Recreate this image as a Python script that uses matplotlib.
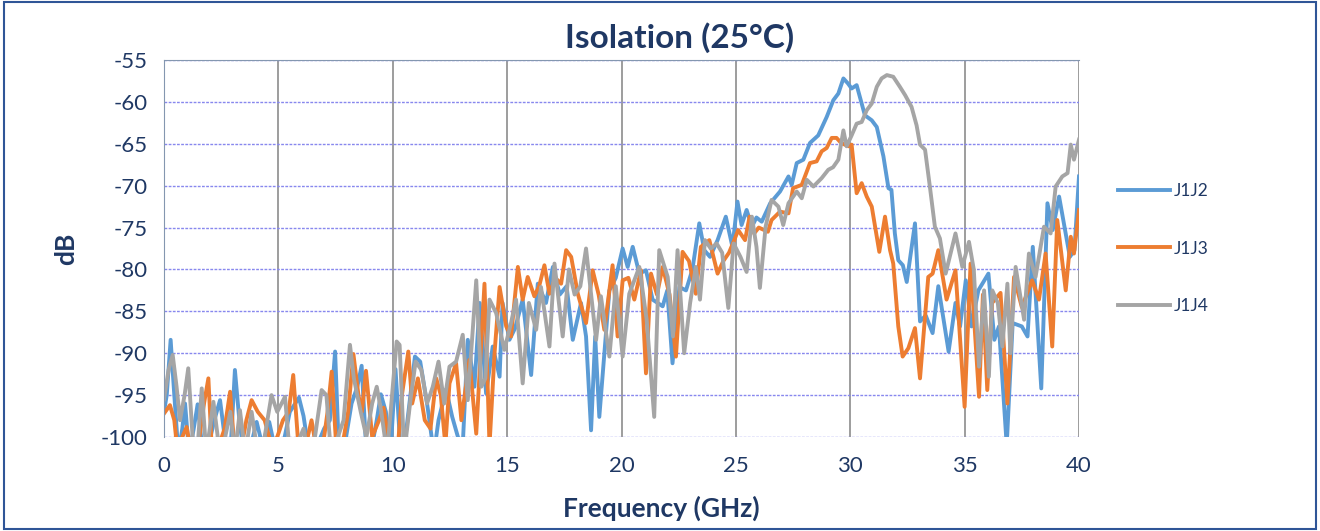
import numpy as np
import matplotlib
matplotlib.use('Agg')
import matplotlib.pyplot as plt
from matplotlib.patches import Rectangle

# values (GHz, dB); lines below -100 are clipped by the axis
f_j1j2 = [0.0, 0.12, 0.29, 0.45, 0.63, 0.8, 0.92, 1.1, 1.3, 1.47, 1.7, 1.95, 2.2, 2.45, 2.7, 2.9,
          3.1, 3.3, 3.5, 3.8, 4.05, 4.3, 4.6, 4.9, 5.2, 5.5, 5.9, 6.1, 6.35, 6.7, 7.0, 7.25,
          7.48, 7.65, 7.9, 8.2, 8.45, 8.64, 8.85, 9.1, 9.3, 9.48, 9.7, 9.9, 10.12, 10.35, 10.6,
          10.97, 11.2, 11.5, 11.8, 12.0, 12.33, 12.6, 12.85, 13.06, 13.28, 13.57, 13.8, 14.08,
          14.37, 14.67, 14.8, 15.1, 15.35, 15.68, 16.05, 16.34, 16.7, 17.0, 17.3, 17.6, 17.87,
          18.23, 18.45, 18.67, 18.85, 19.03, 19.47, 19.75, 20.05, 20.27, 20.49, 20.78, 21.07,
          21.36, 21.8, 22.0, 22.23, 22.53, 22.82, 23.1, 23.4, 23.62, 23.87, 24.2, 24.56, 24.85,
          25.07, 25.25, 25.47, 25.7, 25.9, 26.13, 26.5, 26.93, 27.3, 27.44, 27.66, 27.95, 28.24,
          28.6, 28.97, 29.26, 29.48, 29.7, 29.9, 30.06, 30.28, 30.64, 30.94, 31.16, 31.45, 31.67,
          31.8, 31.95, 32.1, 32.3, 32.47, 32.83, 33.05, 33.3, 33.6, 33.85, 34.3, 34.6, 34.8,
          35.05, 35.3, 35.6, 36.04, 36.3, 36.5, 36.84, 37.1, 37.5, 37.75, 37.98, 38.35, 38.62,
          38.85, 39.13, 39.6, 39.8, 40.0]
db_j1j2 = [-97, -95, -88.4, -95, -102, -99, -96, -102, -99, -96.1, -102, -101, -98, -95.6, -101, -102,
           -92, -98.2, -102, -101, -98.2, -101, -98.2, -102, -101, -97, -95.3, -97.5, -102, -101, -99, -98,
           -89.8, -102, -101, -96, -94, -91.5, -102, -101, -98, -94.9, -97, -102, -91.9, -102, -99,
           -90.4, -91, -96, -102, -98, -94.3, -97.6, -100, -101, -88.4, -94, -84, -94.8,
           -89.2, -92.8, -84, -88.4, -87, -83.6, -92.6, -81.7, -84, -79.7, -83, -82, -88.4,
           -84, -88, -99.2, -88, -97.6, -82.5, -81, -77.5, -79.7, -77.3, -80.5, -80.1,
           -83.6, -84.4, -82.5, -91.2, -82.1, -82.5, -80, -74.5, -77.7, -78.5, -76.5, -73.7, -77.3,
           -71.9, -74.7, -72.9, -74.9, -73.8, -74.3, -72.1, -70.7, -68.9, -69.9, -67.3, -66.9, -64.9,
           -64, -61.8, -59.8, -59, -57.2, -57.8, -58.4, -58.0, -61.6, -62.2, -63, -66.5, -70.3,
           -70.5, -75.7, -78.9, -79.5, -81.5, -74.5, -86.2, -85.5, -87.6, -82, -89.8, -84, -86.8,
           -81.3, -86.8, -82.5, -80.5, -88.4, -86.8, -101, -86.4, -86.8, -88, -77.3, -94.2, -72.1,
           -75.3, -71.3, -78.5, -77.7, -68.9]

f_j1j3 = [0.0, 0.26, 0.45, 0.6, 0.8, 0.99, 1.2, 1.5, 1.75, 1.94, 2.1, 2.4, 2.65, 2.89, 3.1, 3.4,
          3.6, 3.83, 4.1, 4.4, 4.7, 4.95, 5.2, 5.45, 5.65, 5.9, 6.2, 6.45, 6.7, 7.0, 7.15, 7.33,
          7.55, 7.8, 8.05, 8.28, 8.5, 8.65, 8.83, 9.1, 9.4, 9.6, 9.85, 10.2, 10.4, 10.68, 10.85,
          11.1, 11.4, 11.65, 11.9, 12.1, 12.3, 12.48, 12.77, 13.0, 13.35, 13.65, 14.01, 14.23,
          14.45, 14.67, 14.96, 15.17, 15.47, 15.68, 15.9, 16.19, 16.4, 16.63, 16.85, 17.1, 17.36,
          17.58, 17.8, 18.09, 18.45, 18.74, 19.0, 19.25, 19.61, 19.83, 20.05, 20.3, 20.56, 20.85,
          21.07, 21.29, 21.55, 21.8, 22.1, 22.38, 22.67, 22.95, 23.25, 23.47, 23.84, 24.2, 24.45,
          24.7, 24.9, 25.1, 25.4, 25.6, 25.8, 26.0, 26.4, 26.56, 26.93, 27.3, 27.5, 27.88, 28.24,
          28.53, 28.75, 28.97, 29.19, 29.4, 29.6, 29.92, 30.06, 30.28, 30.5, 30.72, 30.94, 31.27,
          31.52, 31.74, 31.88, 32.1, 32.29, 32.54, 32.83, 33.05, 33.41, 33.6, 33.85, 34.21, 34.6,
          35.0, 35.26, 35.63, 35.8, 35.99, 36.2, 36.57, 36.87, 37.16, 37.5, 37.95, 38.25, 38.54,
          38.83, 39.05, 39.42, 39.64, 39.78, 40.0]
db_j1j3 = [-97.2, -96.2, -98, -102, -100, -98.8, -102, -101, -96, -93, -102, -101, -99, -94.6, -102, -101,
           -98, -95.6, -97, -98, -101, -100, -98, -97, -92.6, -102, -101, -98, -102, -100, -97, -92.2,
           -102, -101, -97, -90.1, -95, -97, -92.1, -100, -98, -96.5, -101, -102, -95, -89.8, -96,
           -93, -98, -99, -93, -95, -101, -93.6, -91.2, -98, -90.8, -99.6, -81.7, -101,
           -90, -82.1, -86.8, -88, -79.7, -83.6, -80.9, -83.2, -82, -79.5, -82.9, -81, -81.7,
           -77.7, -78.5, -82.9, -86.4, -80.1, -83, -87.2, -79.5, -88, -81.3, -81, -83.6, -80.1,
           -92.4, -80.5, -83, -79.7, -83, -90.4, -77.9, -79, -82.9, -77.3, -76.5, -80.5, -79,
           -78, -76.7, -75.3, -76.5, -73.7, -75.7, -75, -75.5, -74.1, -73.1, -73.3, -70.3, -69.9, -67.3,
           -67.1, -65.9, -65.5, -64.3, -64.3, -64.9, -65.3, -65.1, -70.9, -69.7, -71.3, -72.5, -77.9,
           -73.7, -77.7, -79.3, -86.8, -90.4, -89.4, -87, -93, -80.9, -80.5, -77.7, -83.6, -80.1,
           -96.4, -79.3, -95.2, -83, -94.4, -84, -82.8, -96, -80.9, -84.5, -81.3, -83.6, -78.1,
           -89.2, -74.1, -82.5, -76.1, -78.1, -72.9]

f_j1j4 = [0.0, 0.2, 0.38, 0.55, 0.7, 0.9, 1.06, 1.25, 1.45, 1.65, 1.85, 2.16, 2.35, 2.6, 2.9, 3.1,
          3.32, 3.55, 3.83, 4.1, 4.4, 4.7, 4.95, 5.29, 5.5, 5.8, 6.1, 6.3, 6.6, 6.89, 7.1, 7.3,
          7.6, 7.85, 8.13, 8.3, 8.6, 8.85, 9.1, 9.3, 9.5, 9.75, 10.17, 10.3, 10.5, 10.8, 11.0,
          11.25, 11.5, 11.75, 12.0, 12.25, 12.48, 12.77, 13.06, 13.28, 13.65, 13.87, 14.05, 14.23,
          14.52, 14.88, 15.17, 15.39, 15.68, 15.95, 16.27, 16.48, 16.85, 17.07, 17.43, 17.7, 17.95,
          18.2, 18.45, 18.89, 19.1, 19.47, 19.75, 20.05, 20.34, 20.78, 21.1, 21.43, 21.65, 22.02,
          22.25, 22.45, 22.74, 23.0, 23.25, 23.43, 23.65, 23.9, 24.16, 24.4, 24.67, 24.9, 25.2,
          25.47, 25.7, 25.9, 26.05, 26.3, 26.56, 26.86, 27.07, 27.3, 27.66, 27.88, 28.1, 28.39,
          28.75, 29.04, 29.25, 29.48, 29.7, 29.84, 30.06, 30.28, 30.5, 30.72, 30.94, 31.16, 31.37,
          31.6, 31.88, 32.17, 32.4, 32.68, 32.9, 33.05, 33.27, 33.48, 33.7, 33.92, 34.17, 34.6,
          34.9, 35.19, 35.4, 35.63, 35.85, 36.06, 36.21, 36.45, 36.65, 36.87, 37.0, 37.23, 37.6,
          37.81, 38.1, 38.47, 38.76, 38.98, 39.27, 39.5, 39.64, 39.78, 40.0]
db_j1j4 = [-95.5, -92, -90.2, -94, -98, -95, -91.8, -100, -102, -94.2, -102, -95.8, -100, -101, -97, -102,
           -96.8, -102, -97, -102, -100, -95, -97, -95.2, -102, -101, -99, -102, -100, -94.4, -95, -102,
           -100, -98, -89, -93, -97, -100, -96, -94, -97, -102, -88.6, -89, -102, -95, -91,
           -92, -96, -94, -91, -96, -91.6, -91, -87.8, -95.6, -81.3, -94, -93, -83.6,
           -85.2, -89.6, -86.4, -83.6, -93.6, -84, -87.2, -82.1, -89.2, -79.3, -88, -80, -83,
           -82, -77.5, -88.4, -83.2, -90.4, -82, -90.4, -82.9, -79.7, -86, -97.6, -77.7, -80.9,
           -88, -77.7, -90, -84, -79.7, -83.6, -76.5, -77.5, -76.9, -78, -84.6, -76.9, -78.5,
           -80.3, -73.7, -77.3, -82.2, -74.9, -71.7, -72.5, -74.7, -72.1, -70.7, -71.5, -69.3, -70.1,
           -69.1, -68.1, -67.8, -66.9, -63.4, -65.3, -64, -62.6, -62.4, -61, -60.2, -58.2, -57.2,
           -56.8, -57.0, -58.2, -59.2, -60.6, -62.8, -65.1, -65.7, -70.1, -74.9, -76.3, -80.5, -75.7,
           -79.7, -76.7, -80, -91.6, -82.5, -92.8, -82.5, -84, -89.2, -81.7, -90, -79.7, -86,
           -78.1, -80.9, -74.9, -75.7, -70.1, -68.9, -68.5, -65.1, -66.9, -64.5]

series = [('J1J2', f_j1j2, db_j1j2, '#5B9BD5'),
          ('J1J3', f_j1j3, db_j1j3, '#ED7D31'),
          ('J1J4', f_j1j4, db_j1j4, '#A5A5A5')]

navy = '#1F3864'
plt.rcParams['font.family'] = ['Lato', 'DejaVu Sans']
plt.rcParams['axes.unicode_minus'] = False

fig = plt.figure(figsize=(13.2, 5.31), dpi=100)
fig.patches.append(Rectangle((0.003, 0.004), 0.994, 0.992, transform=fig.transFigure,
                             fill=False, edgecolor='#2F5597', lw=1.5))
ax = fig.add_axes([164/1320, 1-437/531, 915/1320, 377/531])

for name, f, db, col in series:
  ax.plot(f, db, color=col, lw=2.8, label=name, solid_joinstyle='round')

ax.set_xlim(0, 40)
ax.set_ylim(-100, -55)
ax.set_xticks(np.arange(0, 41, 5))
ax.set_yticks(np.arange(-100, -54, 5))
ax.tick_params(length=0, labelsize=16, colors=navy)
ax.tick_params(axis='x', pad=14)
ax.tick_params(axis='y', pad=12)
ax.xaxis.grid(True, color='#8C8C8C', lw=1.2)
ax.yaxis.grid(True, color='#8888EE', lw=1.0, ls=(0, (2, 1)))
ax.set_axisbelow(True)
for s in ['bottom', 'right']:
  ax.spines[s].set_visible(False)
ax.spines['left'].set_color('#8497B0')
ax.spines['top'].set_color('#8497B0')

ax.set_title('Isolation (25°C)', fontsize=24, fontweight='bold', color=navy, x=0.564, y=1.0, pad=9)
ax.set_xlabel('Frequency (GHz)', fontsize=19, fontweight='bold', color=navy)
ax.xaxis.set_label_coords(0.543, -0.155)
ax.set_ylabel('dB', fontsize=19, fontweight='bold', color=navy, labelpad=16)

ax.legend(loc='center left', bbox_to_anchor=(1.025, 0.5), frameon=False, fontsize=12.5,
          labelcolor=navy, handlelength=3.0, labelspacing=2.4, handletextpad=0.25)

fig.savefig('out.png', dpi=100)
